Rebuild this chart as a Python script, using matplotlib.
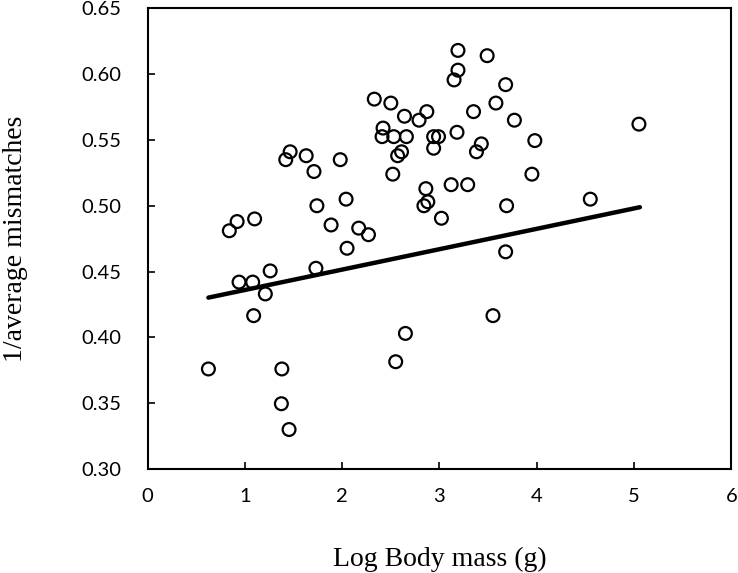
import matplotlib
matplotlib.use("Agg")
from matplotlib import pyplot as plt

# log body mass (g) and 1/average mismatches
log_mass = [0.625, 0.84, 0.92, 0.94, 1.08, 1.09, 1.10, 1.21, 1.26, 1.375,
            1.38, 1.42, 1.454, 1.465, 1.63, 1.71, 1.73, 1.74, 1.886, 1.98,
            2.04, 2.05, 2.17, 2.27, 2.33, 2.41, 2.42, 2.50, 2.52, 2.53,
            2.55, 2.57, 2.61, 2.64, 2.65, 2.66, 2.79, 2.84, 2.86, 2.87,
            2.88, 2.94, 2.94, 2.99, 3.02, 3.12, 3.15, 3.18, 3.19, 3.19,
            3.29, 3.35, 3.38, 3.43, 3.49, 3.55, 3.58, 3.68, 3.68, 3.69,
            3.77, 3.95, 3.98, 4.55, 5.05]
inv_mismatch = [0.376, 0.481, 0.488, 0.442, 0.442, 0.4165, 0.490, 0.433, 0.4505, 0.3496,
                0.376, 0.535, 0.330, 0.541, 0.538, 0.526, 0.4525, 0.500, 0.4854, 0.535,
                0.505, 0.4677, 0.483, 0.478, 0.581, 0.5525, 0.559, 0.578, 0.524, 0.5525,
                0.3815, 0.538, 0.541, 0.568, 0.403, 0.5525, 0.565, 0.500, 0.513, 0.5715,
                0.503, 0.5525, 0.5437, 0.5525, 0.4905, 0.516, 0.5956, 0.5558, 0.618, 0.603,
                0.516, 0.5715, 0.541, 0.547, 0.614, 0.4165, 0.578, 0.592, 0.465, 0.500,
                0.565, 0.524, 0.5495, 0.505, 0.562]

# fitted line end points
fit_x = [0.625, 5.06]
fit_y = [0.4302, 0.4989]

xticks = [0, 1, 2, 3, 4, 5, 6]
yticks = [0.30, 0.35, 0.40, 0.45, 0.50, 0.55, 0.60, 0.65]

fig = plt.figure(figsize=(7.38, 5.73), dpi=100)
ax = fig.add_axes([0.200, 0.1815, 0.791, 0.804])

ax.plot(fit_x, fit_y, color='black', linewidth=3.2, solid_capstyle='round', zorder=2)
ax.scatter(log_mass, inv_mismatch, s=85, facecolors='none', edgecolors='black',
           linewidths=1.6, zorder=3)

ax.set_xlim(0, 6)
ax.set_ylim(0.30, 0.65)
ax.set_xticks(xticks)
ax.set_yticks(yticks)
ax.set_xticklabels([str(t) for t in xticks], fontfamily='Lato', fontsize=14.5)
ax.set_yticklabels(['%.2f' % t for t in yticks], fontfamily='Lato', fontsize=14.5)
ax.tick_params(direction='in', length=5, width=1.2, top=False, right=False)
ax.tick_params(axis='x', pad=14)
ax.tick_params(axis='y', pad=19)

for sp in ax.spines.values():
    sp.set_linewidth(1.5)

ax.set_xlabel('Log Body mass (g)', fontfamily='Liberation Serif', fontsize=20)
ax.set_ylabel('1/average mismatches', fontfamily='Liberation Serif', fontsize=20)
ax.xaxis.set_label_coords(0.5, -0.168)
ax.yaxis.set_label_coords(-0.205, 0.5)

fig.savefig('out.png', dpi=100)
